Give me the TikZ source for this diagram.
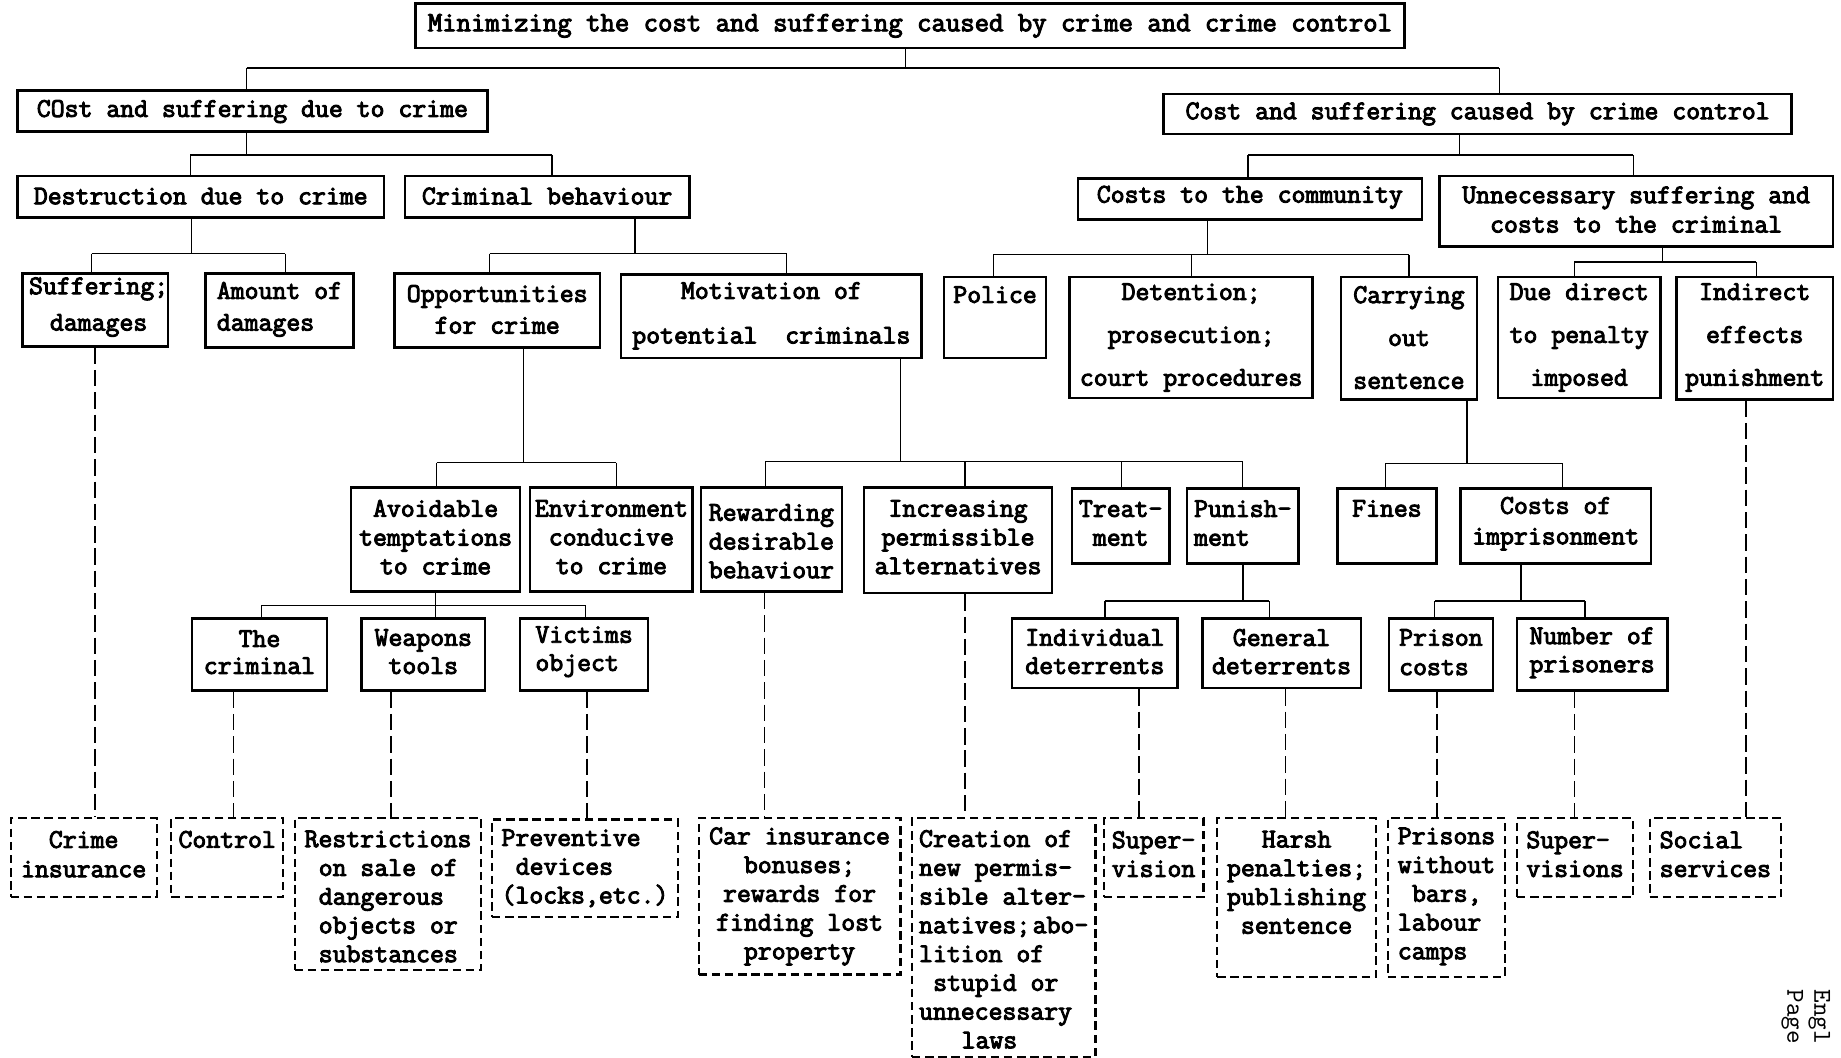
\documentclass[tikz,border=0pt]{standalone}
\usepackage{fontspec}
\newfontfamily\twb{Latin Modern Mono}[FakeBold=3.5]
\newfontfamily\twr{Latin Modern Mono}
\usetikzlibrary{fit}
\tikzset{
 box/.style={draw, line width=1.1pt, inner sep=0pt},
 dbox/.style={draw, line width=0.9pt, inner sep=0pt, dash pattern=on 3.6pt off 2pt},
 txt/.style={inner sep=0pt, align=center, font=\twb\fontsize{11.5}{12.25}\selectfont},
 ls/.style={font=\twb\fontsize{11.5}{#1}\selectfont},
 conn/.style={line width=0.6pt},
 dconn/.style={line width=0.6pt, dash pattern=on 7pt off 2.5pt},
}
\newcommand\indn{\hspace*{0.525em}}
\newcommand\mybx[9][]{%
 \node[box,#1,fit={(#3,#4)(#5,#6)}] (#2) {};
 \node[txt,#8] (#2t) at ({(#3+#5)/2},#7) {#9};}
\newcommand\mybus[6]{%
 \coordinate (#1j) at (#2,#3);
 \coordinate (#1L) at (#4,#3);
 \coordinate (#1R) at (#5,#3);
 \draw[conn] (#1.south -| #1j) -- (#1j);
 \draw[conn] (#1L) -- (#1R);
 \foreach \ch/\xx [count=\nn] in {#6} {
   \coordinate (#1d\nn) at (\xx,#3);
   \draw[conn] (#1d\nn) -- (\ch.north -| #1d\nn);
 }}
\newcommand\mydl[3]{%
 \coordinate (#1#2k) at (#3,0);
 \draw[dconn] (#1.south -| #1#2k) -- (#2.north -| #1#2k);}
\begin{document}
\begin{tikzpicture}[x=0.5pt,y=-0.5pt]
\useasboundingbox (0,0) rectangle (1568,901);
\fill[white] (0,0) rectangle (1568,901);
% level 0-2
\mybx{top}{354}{3}{1196}{41}{22}{ls=12.25pt,font=\twb\fontsize{11.9}{12.25}\selectfont}{Minimizing the cost and suffering caused by crime and crime control}
\mybx{c1}{15}{77}{415}{112}{95}{}{COst and suffering due to crime}
\mybx{c2}{991}{80}{1526}{114}{97}{}{Cost and suffering caused by crime control}
\mybx{d1}{15}{150}{327}{185}{167}{}{Destruction due to crime}
\mybx{d2}{345}{150}{587}{185}{167}{}{Criminal behaviour}
\mybx{d3}{918}{152}{1211}{187}{168}{}{Costs to the community}
\mybx{d4}{1226}{150}{1561}{210}{178.5}{ls=12.5pt}{Unnecessary suffering and\\costs to the criminal}
% level 3
\mybx{e1}{19}{233}{143}{295}{261.5}{ls=15.5pt,xshift=1.5pt}{Suffering;\\damages}
\mybx{e2}{175}{233}{301}{296}{263.5}{ls=13.5pt,align=left}{Amount of\\damages}
\mybx{e3}{336}{233}{511}{296}{263.5}{ls=13.5pt}{Opportunities\\for crime}
\mybx{e4}{529}{234}{785}{305}{269}{ls=19pt}{Motivation of\\potential\ \ criminals}
\mybx{e5}{804}{236}{891}{305}{251}{}{Police}
\mybx{e6}{911}{236}{1118}{339}{287.5}{ls=18.25pt}{Detention;\\prosecution;\\court procedures}
\mybx{e7}{1142}{236}{1258}{340}{287.5}{ls=18.25pt}{Carrying\\out\\sentence}
\mybx{e8}{1276}{236}{1414}{339}{287.5}{ls=18.25pt}{Due direct\\to penalty\\imposed}
\mybx{e9}{1428}{236}{1561}{340}{287.5}{ls=18.25pt}{Indirect\\effects\\punishment}
% level 4
\mybx{f1}{299}{415}{443}{504}{457.5}{}{Avoidable\\temptations\\to crime}
\mybx{f2}{451.5}{415}{590}{504}{457.5}{}{Environment\\conducive\\to crime}
\mybx{f3}{597}{415}{717}{504}{461}{}{Rewarding\\desirable\\behaviour}
\mybx{f4}{736}{415}{896}{505}{457.5}{}{Increasing\\permissible\\alternatives}
\mybx{f5}{913}{416}{996}{480}{445.5}{}{Treat-\\ment}
\mybx{f6}{1011}{416}{1106}{480}{445.5}{align=left}{Punish-\\ment}
\mybx{f7}{1139}{416}{1223.5}{480}{433}{}{Fines}
\mybx{f8}{1244}{416}{1406}{480}{446}{ls=13pt}{Costs of\\imprisonment}
% level 5
\mybx{g1}{163.5}{527}{278.5}{588}{555.5}{ls=11.5pt}{The\\criminal}
\mybx{g2}{308}{527}{413}{588}{555}{ls=12pt}{Weapons\\tools}
\mybx{g3}{443}{527}{552}{588}{555}{ls=12pt,align=left}{Victims\\object}
\mybx{g4}{862}{527}{1003}{586}{555}{ls=12pt}{Individual\\deterrents}
\mybx{g5}{1024}{527}{1159}{586}{555}{ls=12pt}{General\\deterrents}
\mybx{g6}{1183}{527}{1271.5}{588}{555.5}{ls=12.5pt,align=left}{Prison\\costs}
\mybx{g7}{1292}{527}{1420}{588}{556}{ls=12pt}{Number of\\prisoners}
% level 6 (dashed)
\mybx[dbox]{h1}{9}{697}{133.5}{764}{727.5}{ls=12.5pt}{Crime\\insurance}
\mybx[dbox]{h2}{146}{697}{241}{764}{715}{}{Control}
\mybx[dbox]{h3}{251}{697}{410}{826}{763.5}{align=left}{Restrictions\\\indn on sale of\\\indn dangerous\\\indn objects or\\\indn substances}
\mybx[dbox]{h4}{419}{698}{577.5}{781}{739.5}{align=left}{Preventive\\\indn devices\\(locks,etc.)}
\mybx[dbox]{h5}{595}{697}{767}{830}{763.5}{}{Car insurance\\bonuses;\\rewards for\\finding lost\\property}
\mybx[dbox]{h6}{776.7}{697}{933}{900}{800}{align=left}{Creation of\\new permis-\\sible alter-\\natives;\hspace{1pt}abo-\\lition of\\\indn stupid or\\unnecessary\\\indn\indn\indn laws}
\mybx[dbox]{h7}{940}{697}{1025}{764}{727.5}{align=left}{Super-\\vision}
\mybx[dbox]{h8}{1036.6}{697}{1172}{832}{751.5}{}{Harsh\\penalties;\\publishing\\sentence}
\mybx[dbox]{h9}{1182}{697}{1282}{832}{763.5}{align=left}{Prisons\\without\\\indn bars,\\labour\\camps}
\mybx[dbox]{h10}{1292}{697}{1391}{764}{727.5}{align=left}{Super-\\visions}
\mybx[dbox]{h11}{1405}{697}{1517}{764}{727.5}{align=left}{Social\\services}
% page marker
\node[inner sep=0pt, align=center, rotate=-90, font=\twr\fontsize{11}{11.5}\selectfont] (pg) at (1538,866) {Engl\\Page};
% solid connectors
\mybus{top}{771}{58}{210}{1277}{c1/210,c2/1277}
\mybus{c1}{210}{132}{162}{470}{d1/162,d2/470}
\mybus{c2}{1243}{132}{1063}{1391}{d3/1063,d4/1391}
\mybus{d1}{163}{216}{78}{243}{e1/78,e2/243}
\mybus{d2}{541}{216}{417}{670}{e3/417,e4/670}
\mybus{d3}{1028.5}{217}{846}{1200}{e5/846,e6/1015,e7/1200}
\mybus{d4}{1416}{223}{1341}{1496}{e8/1341,e9/1496}
\mybus{e3}{446}{394}{372}{525}{f1/372,f2/525}
\mybus{e4}{767}{393}{652}{1058}{f3/652,f4/822,f5/955,f6/1058}
\mybus{e7}{1249.5}{395}{1180}{1331}{f7/1180,f8/1331}
\mybus{f1}{371}{515.5}{222.5}{498.5}{g1/222.5,g2/371,g3/498.5}
\mybus{f6}{1058.6}{512}{941}{1081}{g4/941,g5/1081}
\mybus{f8}{1295.4}{512}{1222}{1350}{g6/1222,g7/1350}
% dashed connectors
\mydl{e1}{h1}{81}
\mydl{g1}{h2}{199}
\mydl{g2}{h3}{333}
\mydl{g3}{h4}{500}
\mydl{f3}{h5}{651}
\mydl{f4}{h6}{822}
\mydl{g4}{h7}{970}
\mydl{g5}{h8}{1095}
\mydl{g6}{h9}{1224}
\mydl{g7}{h10}{1341}
\mydl{e9}{h11}{1487}
\end{tikzpicture}
\end{document}
